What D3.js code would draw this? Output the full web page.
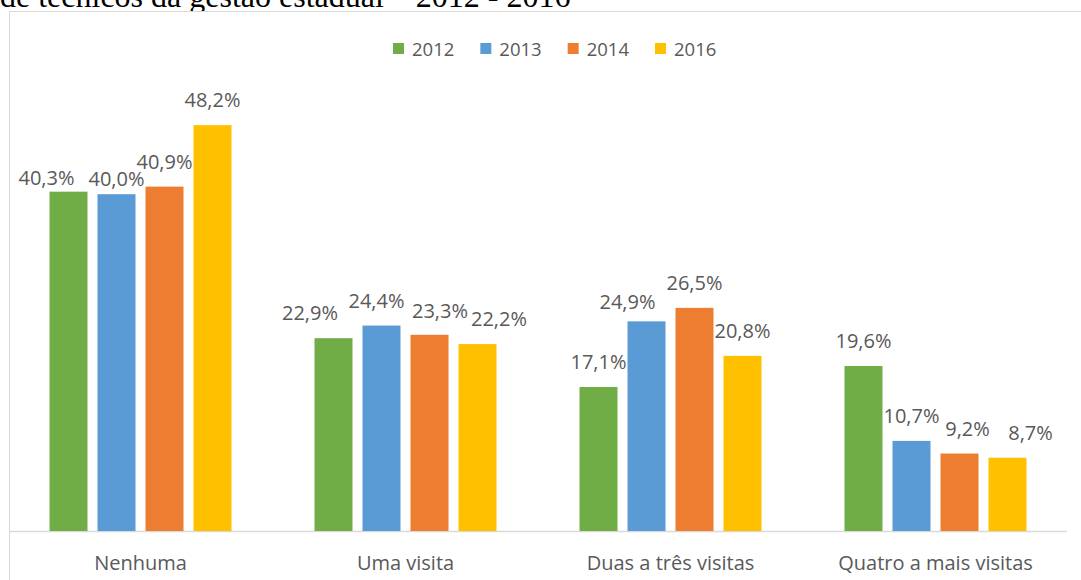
<!DOCTYPE html>
<html>
<head>
<meta charset="utf-8">
<script src="https://cdn.jsdelivr.net/npm/d3@7"></script>
<style>
  html, body { margin: 0; padding: 0; background: #ffffff; }
  svg { display: block; }
</style>
</head>
<body>
<svg id="chart" width="1081" height="580"></svg>
<script>
// ---- Data ----
const titleText = "de técnicos da gestão estadual – 2012 - 2016";
const categories = ["Nenhuma", "Uma visita", "Duas a três visitas", "Quatro a mais visitas"];
const years = ["2012", "2013", "2014", "2016"];
const values2012 = [40.3, 22.9, 17.1, 19.6];
const values2013 = [40.0, 24.4, 24.9, 10.7];
const values2014 = [40.9, 23.3, 26.5, 9.2];
const values2016 = [48.2, 22.2, 20.8, 8.7];
const seriesValues = [values2012, values2013, values2014, values2016];
const colors = ["#70AD47", "#5B9BD5", "#ED7D31", "#FFC000"];

// label nudges (Excel-style collision avoidance), [dx, dy] per series per category
const labelNudge = [
  [[-22, 11], [-23.5, 0], [0, 0], [0, 0]],
  [[0, 10], [-5, 0], [-19, 6], [0, 0]],
  [[0, 0], [10.5, 1], [0, 0], [8, 0]],
  [[0, 0], [21.5, 0], [0, 0], [23, 0]]
];

const fmt = v => v.toFixed(1).replace(".", ",") + "%";

const svg = d3.select("#chart");
const textColor = "#595959";
const font = "'Open Sans', sans-serif";

// Title (clipped at top, as in the source document)
svg.append("text")
  .attr("x", 0).attr("y", 7)
  .attr("font-family", "'Liberation Serif', 'Times New Roman', serif")
  .attr("font-size", 32)
  .attr("fill", "#000")
  .text(titleText);

// Chart area border
svg.append("rect")
  .attr("x", 9.5).attr("y", 11.5)
  .attr("width", 1100).attr("height", 600)
  .attr("fill", "#fff")
  .attr("stroke", "#d9d9d9")
  .attr("stroke-width", 1);

// Scales
const x0 = d3.scaleBand().domain(categories).range([8, 1068]).padding(0);
const x1 = d3.scaleBand().domain(years).range([-91, 91]).paddingInner(10 / 48).paddingOuter(0);
const y = d3.scaleLinear().domain([0, 50]).range([531, 110]);

// Category axis
const xAxis = d3.axisBottom(x0).tickSize(0).tickPadding(0);
const gx = svg.append("g").attr("transform", "translate(0,531)").call(xAxis);
gx.select(".domain").remove();
gx.selectAll("text")
  .attr("font-family", font)
  .attr("font-size", 20)
  .attr("fill", textColor)
  .attr("dy", null)
  .attr("y", 39);
svg.append("line")
  .attr("x1", 10).attr("x2", 1067)
  .attr("y1", 531.5).attr("y2", 531.5)
  .attr("stroke", "#d9d9d9").attr("stroke-width", 1.3);

// Bars + value labels
years.forEach((yr, si) => {
  const g = svg.append("g");
  const data = categories.map((c, ci) => ({ c, ci, v: seriesValues[si][ci] }));
  g.selectAll("rect")
    .data(data)
    .join("rect")
    .attr("x", d => x0(d.c) + x0.bandwidth() / 2 + x1(yr))
    .attr("y", d => y(d.v))
    .attr("width", x1.bandwidth())
    .attr("height", d => y(0) - y(d.v))
    .attr("fill", colors[si]);

  g.selectAll("text")
    .data(data)
    .join("text")
    .attr("x", d => x0(d.c) + x0.bandwidth() / 2 + x1(yr) + x1.bandwidth() / 2 + labelNudge[si][d.ci][0])
    .attr("y", d => y(d.v) - 18 + labelNudge[si][d.ci][1])
    .attr("text-anchor", "middle")
    .attr("font-family", font)
    .attr("font-size", 20)
    .attr("fill", textColor)
    .text(d => fmt(d.v));
});

// Legend
const lx = d3.scalePoint().domain(years).range([393, 655]);
const leg = svg.append("g").selectAll("g").data(years).join("g")
  .attr("transform", d => `translate(${lx(d)},0)`);
leg.append("rect")
  .attr("x", 0).attr("y", 43)
  .attr("width", 11).attr("height", 11)
  .attr("fill", (d, i) => colors[i]);
leg.append("text")
  .attr("x", 19).attr("y", 56)
  .attr("font-family", font)
  .attr("font-size", 18.5)
  .attr("fill", textColor)
  .text(d => d);
</script>
</body>
</html>
